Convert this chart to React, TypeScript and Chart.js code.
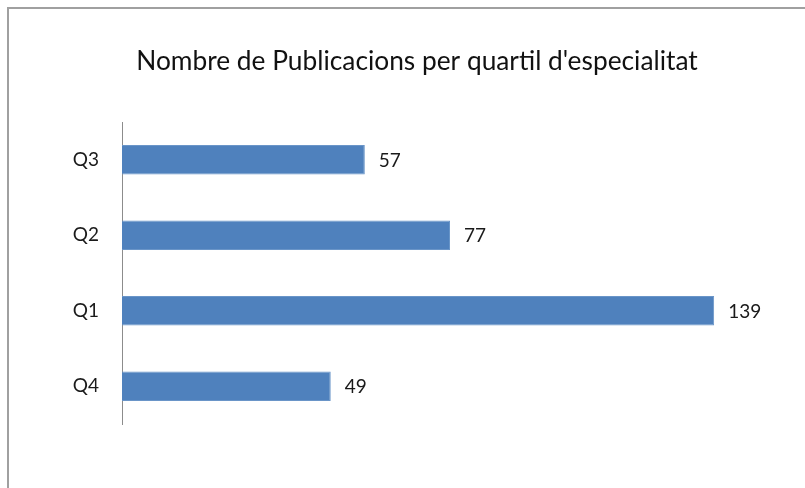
import React, { useEffect, useRef } from "react";
import { Chart, registerables } from "chart.js";

Chart.register(...registerables);

const categories = ["Q3", "Q2", "Q1", "Q4"];
const values = [57, 77, 139, 49];
const title = "Nombre de Publicacions per quartil d'especialitat";
const xMax = 150;

const FONT = "Lato, 'Noto Sans', sans-serif";

const valueLabels = {
  id: "valueLabels",
  afterDatasetsDraw(chart: any) {
    const ctx = chart.ctx;
    const meta = chart.getDatasetMeta(0);
    ctx.save();
    ctx.font = `19px ${FONT}`;
    ctx.fillStyle = "#1a1a1a";
    ctx.textAlign = "left";
    ctx.textBaseline = "middle";
    meta.data.forEach((bar: any, i: number) => {
      ctx.fillText(String(values[i]), bar.x + 14, bar.y + 1);
    });
    ctx.restore();
  },
};

const titlePlugin = {
  id: "titleText",
  afterDraw(chart: any) {
    const ctx = chart.ctx;
    ctx.save();
    ctx.font = `26.3px ${FONT}`;
    ctx.fillStyle = "#111";
    ctx.textAlign = "center";
    ctx.textBaseline = "alphabetic";
    ctx.fillText(title, 417, 70);
    ctx.restore();
  },
};

export default function App() {
  const ref = useRef<HTMLCanvasElement>(null);
  useEffect(() => {
    if (!ref.current) return;
    const chart = new Chart(ref.current, {
      type: "bar",
      data: {
        labels: categories,
        datasets: [
          {
            data: values,
            backgroundColor: "#4F81BD",
            borderColor: "#6A95C8",
            borderWidth: 1,
            categoryPercentage: 1,
            barPercentage: 0.39,
          },
        ],
      },
      options: {
        indexAxis: "y",
        responsive: false,
        animation: false,
        layout: { padding: { left: 0, right: 805 - (122 + 4.26 * xMax), top: 122, bottom: 64 } },
        plugins: {
          legend: { display: false },
          tooltip: { enabled: false },
          title: { display: false },
        },
        scales: {
          x: { display: false, min: 0, max: xMax },
          y: {
            afterFit(scale: any) {
              scale.width = 122;
            },
            grid: { display: false, drawTicks: false },
            border: { display: true, color: "#8c8c8c", width: 1 },
            ticks: {
              padding: 23,
              color: "#1a1a1a",
              font: { family: FONT, size: 19 },
            },
          },
        },
      },
      plugins: [valueLabels, titlePlugin],
    });
    return () => chart.destroy();
  }, []);
  return (
    <div style={{ position: "fixed", left: 0, top: 0, width: 805, height: 488, background: "#fff", overflow: "hidden" }}>
      <canvas ref={ref} width={805} height={488} style={{ position: "absolute", left: 0, top: 0 }} />
      <div
        style={{
          position: "absolute",
          left: 7,
          top: 7,
          width: 820,
          height: 500,
          borderTop: "2px solid #a0a0a0",
          borderLeft: "2px solid #a0a0a0",
          pointerEvents: "none",
        }}
      />
    </div>
  );
}
